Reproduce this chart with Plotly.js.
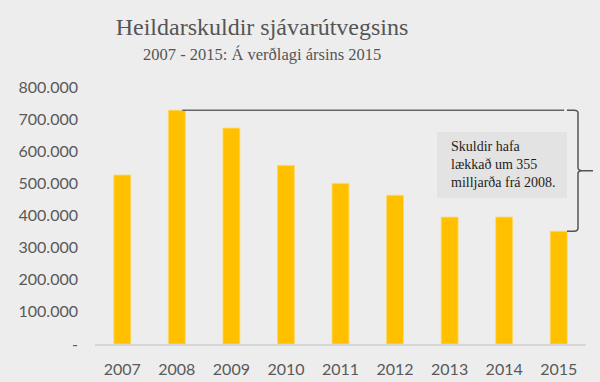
<!DOCTYPE html>
<html>
<head>
<meta charset="utf-8">
<script src="https://cdn.plot.ly/plotly-3.0.1.min.js"></script>
<style>html,body{margin:0;padding:0;background:#ededed;}#chart{width:600px;height:382px;}</style>
</head>
<body>
<div id="chart"></div>
<script>
const years = ['2007','2008','2009','2010','2011','2012','2013','2014','2015'];
const debt = [526000, 728000, 672000, 556000, 500000, 463000, 395000, 395000, 351000];
const yTickVals = [0, 100000, 200000, 300000, 400000, 500000, 600000, 700000, 800000];
const yTickLabels = ['-', '100.000', '200.000', '300.000', '400.000', '500.000', '600.000', '700.000', '800.000'];
const titleText = 'Heildarskuldir sjávarútvegsins';
const subtitleText = '2007 - 2015: Á verðlagi ársins 2015';
const noteLines = ['Skuldir hafa', 'lækkað um 355', 'milljarða frá 2008.'];

const iTop = years.indexOf('2008');
const iBot = years.indexOf('2015');
const yTop = debt[iTop];
const yBot = debt[iBot];
const yMid = (yTop + yBot) / 2;

// paper-x helpers (plot area 95..586 px)
const L = 95, W = 491;
const px = p => (p - L) / W;
const r = 9000; // small vertical rounding in data units

const bracePath =
  'M ' + px(567) + ',' + yTop +
  ' L ' + px(574) + ',' + yTop +
  ' Q ' + px(578) + ',' + yTop + ' ' + px(578) + ',' + (yTop - r) +
  ' L ' + px(578) + ',' + (yMid + r) +
  ' Q ' + px(578) + ',' + yMid + ' ' + px(582) + ',' + yMid +
  ' L ' + px(593) + ',' + yMid +
  ' M ' + px(582) + ',' + yMid +
  ' Q ' + px(578) + ',' + yMid + ' ' + px(578) + ',' + (yMid - r) +
  ' L ' + px(578) + ',' + (yBot + r) +
  ' Q ' + px(578) + ',' + yBot + ' ' + px(574) + ',' + yBot +
  ' L ' + px(567) + ',' + yBot;

const trace = {
  type: 'bar',
  x: years,
  y: debt,
  width: 0.31,
  marker: {color: '#FFC000', line: {color: '#FFD966', width: 0.8}},
  hoverinfo: 'x+y'
};

const layout = {
  width: 600, height: 382,
  paper_bgcolor: '#ededed',
  plot_bgcolor: '#ededed',
  margin: {l: 95, r: 14, t: 87, b: 38},
  showlegend: false,
  title: {
    text: titleText,
    font: {family: 'Liberation Serif, serif', size: 24, color: '#555555'},
    x: 262/600, xref: 'container', xanchor: 'center',
    y: 1 - 27/382, yref: 'container', yanchor: 'middle'
  },
  xaxis: {
    type: 'category',
    range: [-0.5, 8.5],
    showline: true, linecolor: '#d6d6d6', linewidth: 1.5,
    showgrid: false, zeroline: false, ticks: '',
    ticklabelstandoff: 10,
    tickfont: {family: 'Lato, sans-serif', size: 16, color: '#595959'}
  },
  yaxis: {
    range: [0, 800000],
    tickvals: yTickVals, ticktext: yTickLabels,
    showline: false, showgrid: false, zeroline: false, ticks: '',
    ticklabelstandoff: 16,
    tickfont: {family: 'Lato, sans-serif', size: 16, color: '#595959'}
  },
  shapes: [
    {type: 'rect', xref: 'paper', yref: 'paper', layer: 'below',
     x0: px(437), x1: px(567), y0: (344-198)/257, y1: (344-132)/257,
     fillcolor: '#e3e3e3', line: {width: 0}},
    {type: 'line', xref: 'x', yref: 'y', x0: iTop + 0.1, x1: 8.1, y0: yTop, y1: yTop,
     line: {color: '#666666', width: 1.5}},
    {type: 'path', xref: 'paper', yref: 'y', path: bracePath,
     line: {color: '#555555', width: 1.5}}
  ],
  annotations: [
    {text: subtitleText, xref: 'paper', yref: 'paper', showarrow: false,
     x: (262 - L) / W, y: (344 - 54) / 257, xanchor: 'center', yanchor: 'middle',
     font: {family: 'Liberation Serif, serif', size: 16.5, color: '#555555'}},
    {text: noteLines.join('<br>'), xref: 'paper', yref: 'paper', showarrow: false,
     x: px(449), y: (344 - 164) / 257, xanchor: 'left', yanchor: 'middle', align: 'left',
     font: {family: 'Liberation Serif, serif', size: 14, color: '#1e1e1e'}}
  ]
};

Plotly.newPlot('chart', [trace], layout, {displayModeBar: false, staticPlot: true});
</script>
</body>
</html>
